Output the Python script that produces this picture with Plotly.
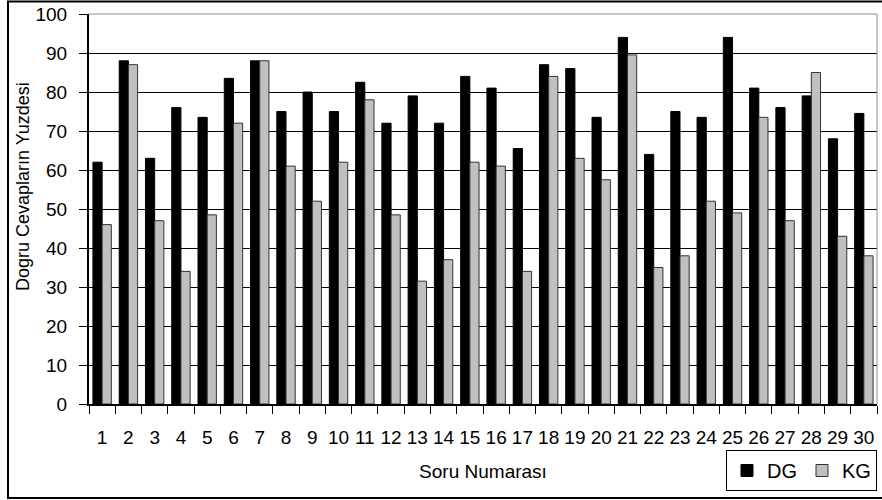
import plotly.graph_objects as go

questions = [str(i) for i in range(1, 31)]
dg = [62, 88, 63, 76, 73.5, 83.5, 88, 75, 80, 75, 82.5, 72, 79, 72, 84, 81, 65.5, 87, 86, 73.5,
      94, 64, 75, 73.5, 94, 81, 76, 79, 68, 74.5]
kg = [46, 87, 47, 34, 48.5, 72, 88, 61, 52, 62, 78, 48.5, 31.5, 37, 62, 61, 34, 84, 63, 57.5,
      89.5, 35, 38, 52, 49, 73.5, 47, 85, 43, 38]
y_ticks = list(range(0, 101, 10))

FONT = "Arial, Liberation Sans, sans-serif"

fig = go.Figure()
fig.add_trace(go.Bar(x=questions, y=dg, name="DG",
                     marker=dict(color="#000000", line=dict(color="#000000", width=1))))
fig.add_trace(go.Bar(x=questions, y=kg, name="KG",
                     marker=dict(color="#c0c0c0", line=dict(color="#333333", width=1))))

L, R, T, B = 89, 877, 14, 404
W, H = 882, 500
pw, ph = R - L, B - T

def px(x):
    return (x - L) / pw

def py(y):
    return (B - y) / ph

fig.update_layout(
    width=W, height=H,
    margin=dict(l=L, r=W - R, t=T, b=H - B, pad=0, autoexpand=False),
    paper_bgcolor="white", plot_bgcolor="white",
    barmode="group", bargap=0.3, bargroupgap=0,
    font=dict(family=FONT, color="#000000"),
    showlegend=True,
    legend=dict(orientation="h", x=1.0, xanchor="right", y=py(450), yanchor="top",
                bordercolor="#000000", borderwidth=1, bgcolor="white",
                font=dict(size=20, family=FONT), traceorder="normal",
                tracegroupgap=0),
    xaxis=dict(type="category", tickson="boundaries", ticks="outside", ticklen=8,
               tickcolor="#000000", tickwidth=1, showline=True, linecolor="#000000",
               linewidth=2, showgrid=False, tickfont=dict(size=19, family=FONT),
               tickangle=0, automargin=False, ticklabelstandoff=15,
               title=dict(text="Soru Numarası", font=dict(size=19, family=FONT), standoff=18)),
    yaxis=dict(range=[0, 100], tickvals=y_ticks, ticks="outside", ticklen=8,
               tickcolor="#000000", showline=True, linecolor="#000000", linewidth=2,
               showgrid=True, gridcolor="#000000", gridwidth=1, zeroline=False,
               tickfont=dict(size=19, family=FONT), ticklabelstandoff=8, automargin=False),
    annotations=[
        dict(text="Dogru Cevapların Yuzdesi", xref="paper", yref="paper",
             x=px(23), y=py(187), xanchor="center", yanchor="middle", textangle=-90,
             showarrow=False, font=dict(size=18, family=FONT)),
    ],
    shapes=[
        dict(type="line", xref="paper", yref="paper", x0=0, x1=1, y0=1, y1=1,
             line=dict(color="#909090", width=1), layer="above"),
        dict(type="line", xref="paper", yref="paper", x0=1, x1=1, y0=0, y1=1,
             line=dict(color="#909090", width=1), layer="above"),
        dict(type="rect", xref="paper", yref="paper", x0=px(8), x1=px(885),
             y0=py(498), y1=py(1.5), line=dict(color="#000000", width=2),
             fillcolor="rgba(0,0,0,0)", layer="above"),
    ],
)

fig.write_html("out.html", config={"displayModeBar": False},
               post_script="document.body.style.margin='0';document.body.style.padding='0';")
